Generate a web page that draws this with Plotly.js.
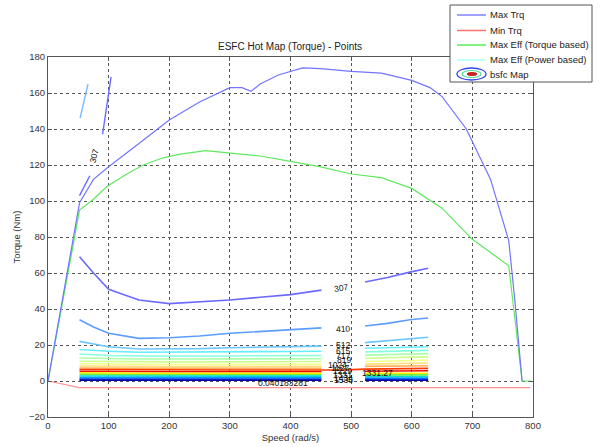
<!DOCTYPE html>
<html>
<head>
<meta charset="utf-8">
<script src="https://cdn.plot.ly/plotly-3.0.1.min.js"></script>
<style>html,body{margin:0;padding:0;background:#fff;}#chart{width:600px;height:447px;}</style>
</head>
<body>
<div id="chart"></div>
<script>
// ---------- data ----------
const maxTrqSpeed = [0, 52, 75, 100, 150, 200, 250, 300, 320, 335, 350, 380, 420, 450, 500, 550, 600, 630, 650, 690, 730, 760, 770, 782];
const maxTrqTorque = [0, 99, 112, 119, 132, 145, 155, 163, 163, 161, 165, 170, 174, 173.5, 172, 171, 167, 163, 158, 140, 112, 78, 45, 0];

const minTrqSpeed = [0, 52, 200, 400, 600, 795];
const minTrqTorque = [0, -3.7, -3.7, -3.7, -3.7, -3.7];

const effTrqSpeed = [0, 52, 75, 97, 130, 157, 190, 218, 260, 300, 350, 400, 450, 500, 550, 600, 650, 699, 760, 770, 782, 797];
const effTrqTorque = [0, 95, 101, 108, 115, 120, 124, 126, 128, 126.5, 125, 122, 119, 115, 113, 107, 96, 79, 64, 35, 0, 0];

const effPwrSpeed = [0, 52];
const effPwrTorque = [0, 95];

// bsfc contour lines (left block and right block)
const cSpeedL = [52, 75, 100, 150, 200, 250, 300, 350, 400, 451];
const cSpeedR = [523, 560, 597, 627];
const levelNames = ['307', '410', '512', '615', '717', '819', '922', '1024', '1127', '1229', '1434', 'b1', 'b2', 'b3', 'b4', 'b5', 'b6'];
const levelColors = ['#6a6aff', '#5c9dff', '#6cc8ff', '#66eeff', '#88ffdd', '#aaffaa', '#ccff88', '#f2ff88', '#ffe07a', '#ffae55', '#ee1100', '#ffee00', '#77ee33', '#00dddd', '#0099ff', '#0044ee', '#0000b0'];
const levelL = [
  [69, 60, 51, 45, 43, 44, 45, 46.5, 48, 50.5],
  [34, 30, 26.5, 23.7, 24, 25, 26.5, 27.5, 28.5, 29.5],
  [22, 20.5, 19, 17.8, 17.8, 18, 18.5, 18.8, 19.2, 19.4],
  [17.5, 17, 16.5, 16, 16, 16, 16.1, 16.2, 16.4, 16.5],
  [15, 14.6, 14.2, 13.9, 13.8, 13.8, 13.9, 14, 14.1, 14.2],
  [12.8, 12.6, 12.4, 12.2, 12.2, 12.2, 12.2, 12.3, 12.3, 12.4],
  [11, 10.9, 10.8, 10.7, 10.6, 10.6, 10.6, 10.7, 10.7, 10.8],
  [9.6, 9.5, 9.4, 9.3, 9.2, 9.2, 9.2, 9.2, 9.3, 9.3],
  [8.3, 8.2, 8.1, 8.1, 8, 8, 8, 8, 8, 8.1],
  [7.2, 7.1, 7, 7, 7, 7, 7, 7, 7, 7],
  [5.4, 5.3, 5.2, 5.2, 5.1, 5.1, 5.1, 5.1, 5.1, 5.2],
  [4.5, 4.4, 4.4, 4.3, 4.3, 4.3, 4.3, 4.3, 4.3, 4.3],
  [3.7, 3.6, 3.6, 3.5, 3.5, 3.5, 3.5, 3.5, 3.5, 3.5],
  [2.8, 2.8, 2.7, 2.7, 2.7, 2.7, 2.7, 2.7, 2.7, 2.7],
  [1.9, 1.9, 1.9, 1.9, 1.9, 1.9, 1.9, 1.9, 1.9, 1.9],
  [1.1, 1.1, 1.1, 1.1, 1.1, 1.1, 1.1, 1.1, 1.1, 1.1],
  [0.5, 0.5, 0.5, 0.5, 0.5, 0.5, 0.5, 0.5, 0.5, 0.5]
];
const levelR = [
  [55, 57.5, 60.5, 62.6],
  [30.6, 32, 34, 35],
  [21.3, 22.3, 23.3, 24.3],
  [18.2, 18.5, 18.7, 19],
  [16.2, 16.5, 16.8, 17],
  [14.4, 14.7, 15, 15.2],
  [12.6, 12.9, 13.2, 13.4],
  [10.8, 11.1, 11.3, 11.5],
  [9.4, 9.6, 9.8, 10],
  [8.1, 8.2, 8.3, 8.5],
  [5.4, 5.5, 5.6, 5.7],
  [4.3, 4.3, 4.3, 4.3],
  [3.4, 3.4, 3.4, 3.4],
  [2.5, 2.5, 2.5, 2.5],
  [1.6, 1.6, 1.6, 1.6],
  [0.9, 0.9, 0.9, 0.9],
  [0.4, 0.4, 0.4, 0.4]
];
// continuous red contour through the gap
const redSpeed = [52, 100, 200, 300, 400, 451, 490, 523, 575, 627];
const redTorque = [6.4, 6.3, 6.2, 6.1, 6.1, 6.1, 6.2, 6.6, 6.8, 7.0];

// extra contour fragments near the top-left
const fragASpeed = [90, 97, 104];   const fragATorque = [137, 152, 169];
const fragBSpeed = [52, 69];        const fragBTorque = [103, 114];
const fragCSpeed = [53, 66];        const fragCTorque = [146, 165];

// contour labels
const labelText  = ['307', '410', '512', '615', '717', '819', '1024', '1127', '1229', '1331', '1434', '1536', '1331.27', '0.040183281', '307'];
const labelSpeed = [483, 486, 487, 487, 487, 488, 478, 482, 486, 486, 487, 487, 543, 387, 76];
const labelTorque= [51.7, 29, 19.8, 16.6, 14.0, 11.8, 9.0, 7.2, 5.4, 3.6, 1.8, 0.3, 4.3, -1.3, 125];
const labelAngle = [-8, -3, 0, 0, 0, 0, 0, 0, 0, 0, 0, 0, 0, 0, -75];

// legend
const legendNames = ['Max Trq', 'Min Trq', 'Max Eff (Torque based)', 'Max Eff (Power based)', 'bsfc Map'];
const legendColors = ['#8080ff', '#ff7070', '#55ee55', '#aaffff', ''];

// ---------- build ----------
const traces = [];
const FONT = 'Liberation Sans, Arial, sans-serif';
for (let i = 0; i < levelNames.length; i++) {
  traces.push({x: cSpeedL, y: levelL[i], mode: 'lines', line: {color: levelColors[i], width: 1.6}, hoverinfo: 'skip'});
  traces.push({x: cSpeedR, y: levelR[i], mode: 'lines', line: {color: levelColors[i], width: 1.6}, hoverinfo: 'skip'});
}
traces.push({x: redSpeed, y: redTorque, mode: 'lines', line: {color: '#ff3a00', width: 1.6}});
traces.push({x: fragASpeed, y: fragATorque, mode: 'lines', line: {color: '#6a6aff', width: 1.4}});
traces.push({x: fragBSpeed, y: fragBTorque, mode: 'lines', line: {color: '#6a6aff', width: 1.4}});
traces.push({x: fragCSpeed, y: fragCTorque, mode: 'lines', line: {color: '#77bbff', width: 1.4}});
traces.push({x: effPwrSpeed, y: effPwrTorque, mode: 'lines', line: {color: '#aaffff', width: 1.2}});
traces.push({x: minTrqSpeed, y: minTrqTorque, mode: 'lines', line: {color: '#ff9090', width: 1.2}});
traces.push({x: effTrqSpeed, y: effTrqTorque, mode: 'lines', line: {color: '#5fe85f', width: 1.2}});
traces.push({x: maxTrqSpeed, y: maxTrqTorque, mode: 'lines', line: {color: '#7474ff', width: 1.2}});

// pixel helpers (plot area 48..533 x 57..417)
const PX = px => (px - 48) / 485;
const PY = py => (417 - py) / 360;

const annotations = labelText.map((t, i) => ({
  x: labelSpeed[i], y: labelTorque[i], xref: 'x', yref: 'y', text: t, showarrow: false,
  textangle: labelAngle[i], font: {family: FONT, size: 8.5, color: '#111'}
}));

const shapes = [{type: 'rect', xref: 'paper', yref: 'paper', x0: PX(450), x1: PX(592), y0: PY(82), y1: PY(5),
  fillcolor: '#ffffff', line: {color: '#555', width: 1}, layer: 'above'}];
const legY = [15, 30.5, 45, 60, 74];
legendNames.forEach((n, i) => {
  if (legendColors[i]) {
    shapes.push({type: 'line', xref: 'paper', yref: 'paper', x0: PX(457), x1: PX(486), y0: PY(legY[i]), y1: PY(legY[i]),
      line: {color: legendColors[i], width: 1.5}, layer: 'above'});
  }
  annotations.push({xref: 'paper', yref: 'paper', x: PX(488), y: PY(legY[i]), xanchor: 'left', yanchor: 'middle',
    text: n, showarrow: false, font: {family: FONT, size: 9.5, color: '#222'}});
});
// bsfc map legend icon
shapes.push({type: 'circle', xref: 'paper', yref: 'paper', x0: PX(457), x1: PX(486), y0: PY(80), y1: PY(68), line: {color: '#3344ee', width: 1.3}, layer: 'above'});
shapes.push({type: 'circle', xref: 'paper', yref: 'paper', x0: PX(462), x1: PX(481), y0: PY(77.5), y1: PY(70.5), line: {color: '#55dd99', width: 1.2}, layer: 'above'});
shapes.push({type: 'circle', xref: 'paper', yref: 'paper', x0: PX(467), x1: PX(477), y0: PY(75.5), y1: PY(72.5), fillcolor: '#cc2222', line: {color: '#cc2222', width: 1}, layer: 'above'});

const axisCommon = {
  showline: true, linecolor: '#555', linewidth: 1, mirror: 'ticks',
  ticks: 'inside', ticklen: 4, tickcolor: '#555',
  showgrid: true, gridcolor: '#555', griddash: 'dot', gridwidth: 1,
  zeroline: false, automargin: false,
  tickfont: {family: FONT, size: 9.5, color: '#333'}
};

const layout = {
  width: 600, height: 447,
  margin: {l: 48, r: 67, t: 57, b: 30, pad: 0},
  paper_bgcolor: '#fff', plot_bgcolor: '#fff',
  showlegend: false,
  title: {text: 'ESFC Hot Map (Torque) - Points', x: 290 / 600, xref: 'container', xanchor: 'center',
    y: 1 - 46 / 447, yref: 'container', yanchor: 'middle', font: {family: FONT, size: 10, color: '#222'}},
  xaxis: Object.assign({}, axisCommon, {range: [0, 800], dtick: 100, tick0: 0,
    title: {text: 'Speed (rad/s)', standoff: 3, font: {family: FONT, size: 9.5, color: '#333'}}}),
  yaxis: Object.assign({}, axisCommon, {range: [-20, 180], dtick: 20, tick0: 0,
    title: {text: 'Torque (Nm)', standoff: 6, font: {family: FONT, size: 9.5, color: '#333'}}}),
  annotations: annotations,
  shapes: shapes
};

Plotly.newPlot('chart', traces, layout, {staticPlot: true, displayModeBar: false});
</script>
</body>
</html>
